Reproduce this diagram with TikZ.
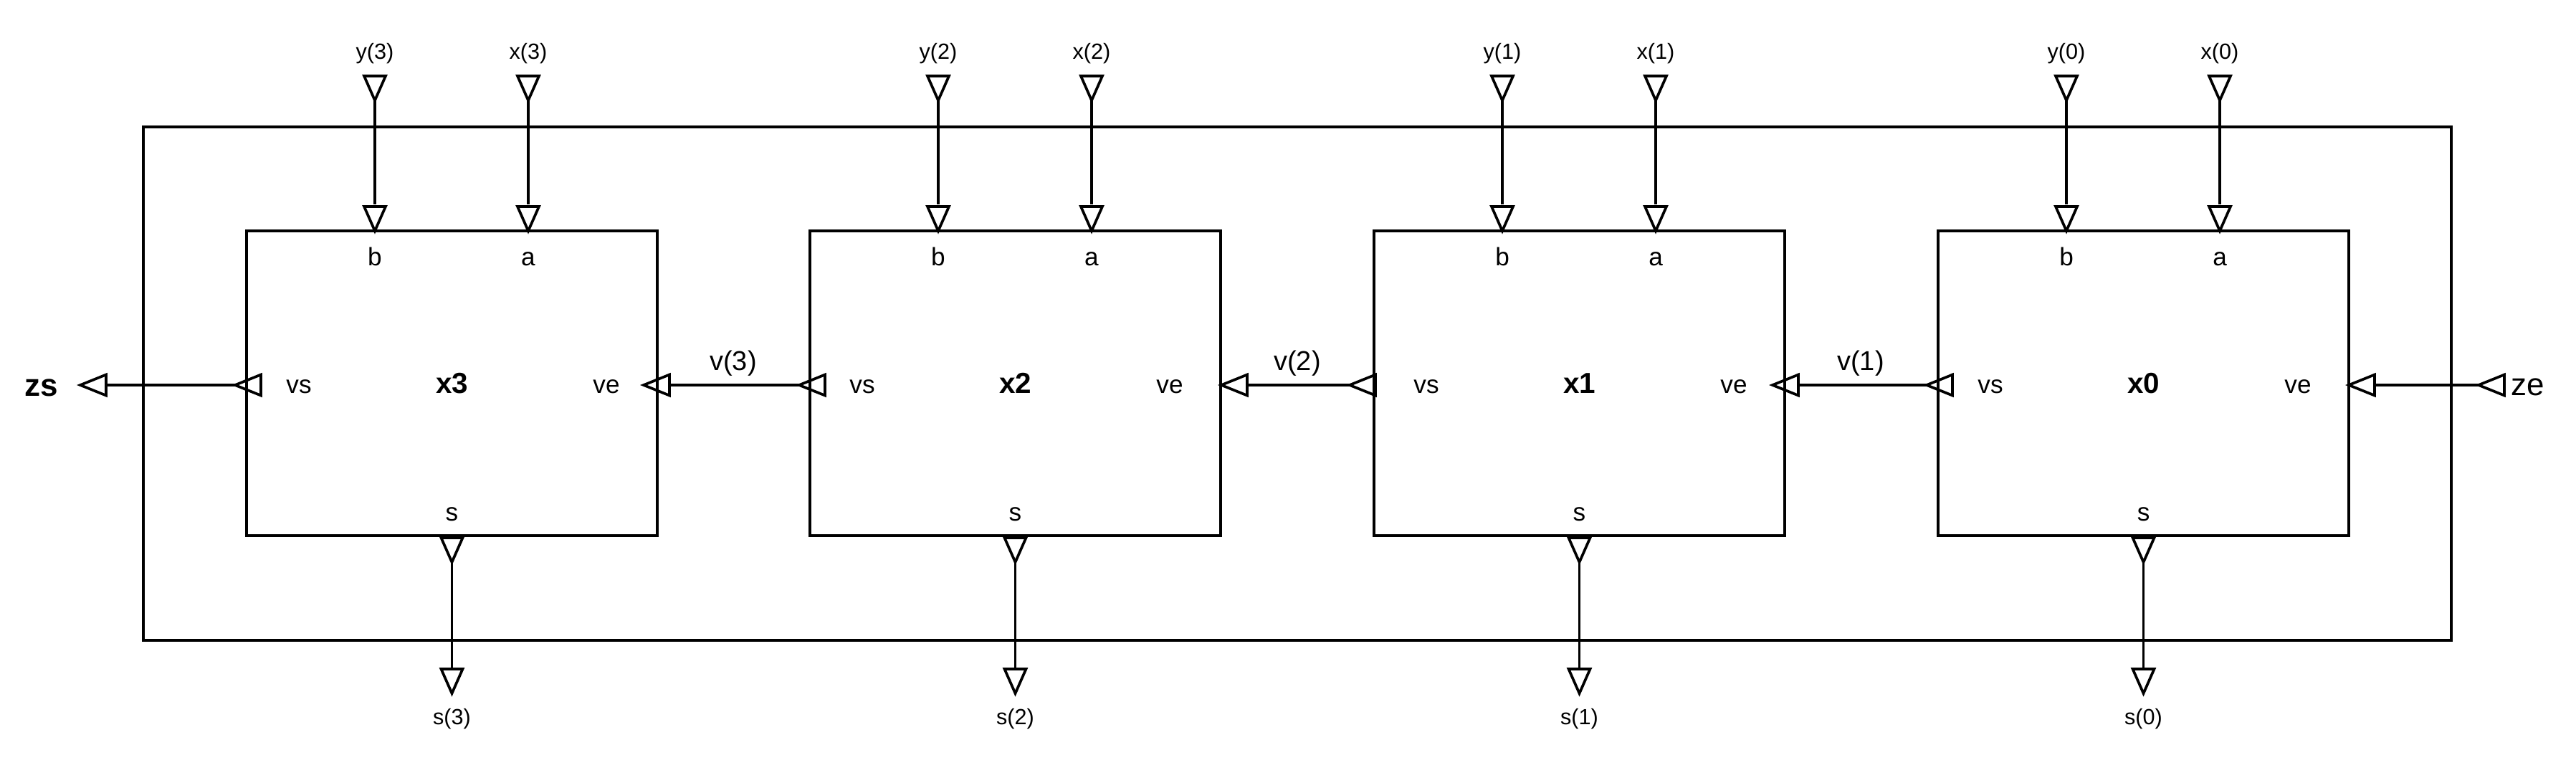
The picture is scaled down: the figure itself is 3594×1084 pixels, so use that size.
\documentclass[tikz,border=0pt]{standalone}
\usepackage{fontspec}
\setmainfont{Liberation Sans}
\begin{document}
\begin{tikzpicture}[x=0.01cm,y=-0.01cm,
  blk/.style={draw,line width=1.05pt,minimum width=5.73cm,minimum height=4.25cm,inner sep=0pt,font=\fontsize{11.5}{13}\selectfont\bfseries},
  outer/.style={draw,line width=1pt},
  wire/.style={line width=0.9pt},
  bus/.style={line width=1.3pt},
  tri/.style={line width=1.05pt,line join=miter},
  sig/.style={inner sep=0pt,font=\fontsize{8.7}{10}\selectfont},
  port/.style={inner sep=0pt,anchor=base,font=\fontsize{10}{12}\selectfont},
  vlab/.style={inner sep=0pt,font=\fontsize{10.8}{12}\selectfont},
  tipleft/.pic={\draw[tri] (0,0) -- (36,-14.5) -- (36,14.5) -- cycle;},
  tipdown/.pic={\draw[tri] (0,0) -- (-15,-34) -- (15,-34) -- cycle;}]
\useasboundingbox (0,0) rectangle (3594,1084);
% outer frame
\node[outer,minimum width=32.18cm,minimum height=7.16cm,inner sep=0pt] (frame) at (1810,535) {};
% blocks
\foreach \k/\L in {3/344, 2/1130, 1/1917, 0/2704} {
  \node[blk] (x\k) at ({\L+286.5},534.5) {x\k};
  % inputs
  \node[sig] (ly\k) at ({\L+179},75) {y(\k)};
  \node[sig] (lx\k) at ({\L+393},75) {x(\k)};
  \coordinate (yt\k) at ({\L+179},140);
  \coordinate (yb\k) at ({\L+179},285);
  \coordinate (pb\k) at ({\L+179},322);
  \coordinate (xt\k) at ({\L+393},140);
  \coordinate (xb\k) at ({\L+393},285);
  \coordinate (pa\k) at ({\L+393},322);
  \draw[wire] (yt\k) -- (yb\k);
  \draw[wire] (xt\k) -- (xb\k);
  \pic at (yt\k) {tipdown};
  \pic at (pb\k) {tipdown};
  \pic at (xt\k) {tipdown};
  \pic at (pa\k) {tipdown};
  % port labels
  \node[port] (nb\k) at ({\L+179},370) {b};
  \node[port] (na\k) at ({\L+393},370) {a};
  \node[port] (nvs\k) at ({\L+73},548) {vs};
  \node[port] (nve\k) at ({\L+502},548) {ve};
  \node[port] (ns\k) at ({\L+286.5},726) {s};
  % output
  \coordinate (st\k) at ({\L+286.5},784);
  \coordinate (sb\k) at ({\L+286.5},933);
  \coordinate (so\k) at ({\L+286.5},967);
  \draw[wire] (st\k) -- (sb\k);
  \pic at (st\k) {tipdown};
  \pic at (so\k) {tipdown};
  \node[sig] (ls\k) at ({\L+286.5},1003) {s(\k)};
}
% horizontal chain coordinates (tips)
\coordinate (zst) at (112,537);  \coordinate (zsb) at (148,537);
\coordinate (vs3) at (328,537);
\coordinate (ve3) at (898,537);  \coordinate (ve3b) at (934,537);
\coordinate (vs2) at (1115,537);
\coordinate (ve2) at (1704,537); \coordinate (ve2b) at (1740,537);
\coordinate (vs1) at (1883,537);
\coordinate (ve1) at (2473,537); \coordinate (ve1b) at (2509,537);
\coordinate (vs0) at (2688,537);
\coordinate (ve0) at (3277,537); \coordinate (ve0b) at (3313,537);
\coordinate (zet) at (3458,537);
% connectors
\draw[bus] (vs3) -- (zsb);
\draw[bus] (vs2) -- (ve3b);
\draw[bus] (vs1) -- (ve2b);
\draw[bus] (vs0) -- (ve1b);
\draw[bus] (zet) -- (ve0b);
\foreach \c in {zst,vs3,ve3,vs2,ve2,vs1,ve1,vs0,ve0,zet} {\pic at (\c) {tipleft};}
% labels
\node[vlab] (lv3) at (1023,507) {v(3)};
\node[vlab] (lv2) at (1810,507) {v(2)};
\node[vlab] (lv1) at (2596,507) {v(1)};
\node[inner sep=0pt,anchor=base,font=\fontsize{12.5}{14}\selectfont\bfseries] (zs) at (58,552) {zs};
\node[inner sep=0pt,anchor=base,font=\fontsize{12.5}{14}\selectfont] (ze) at (3527,551) {ze};
\end{tikzpicture}
\end{document}
